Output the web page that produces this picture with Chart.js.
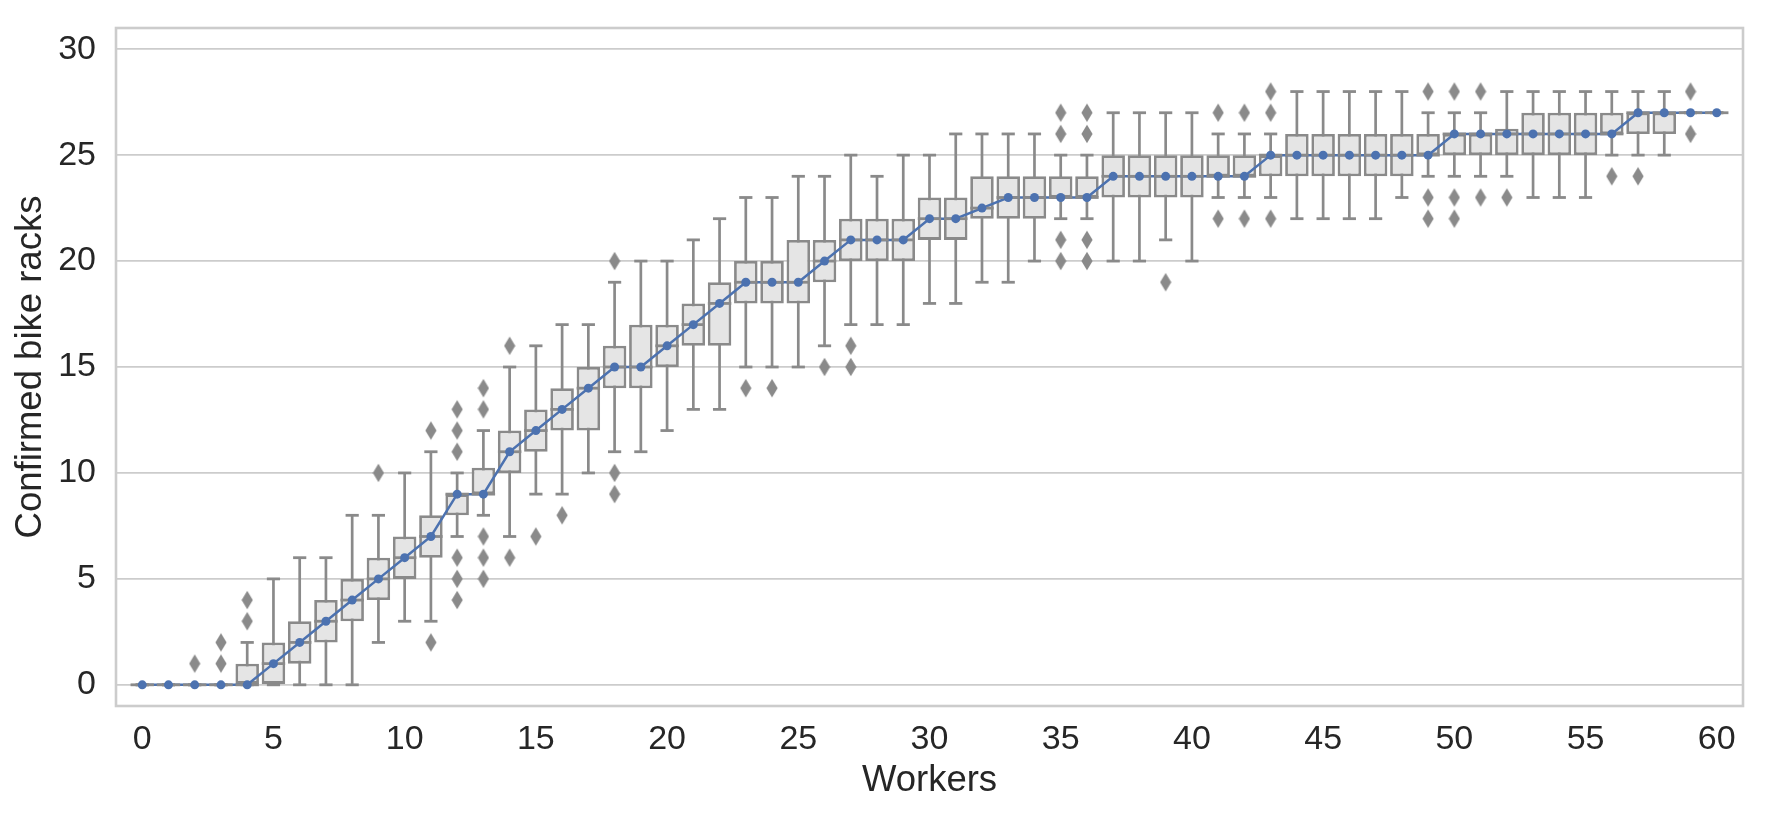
<!DOCTYPE html>
<html>
<head>
<meta charset="utf-8">
<script src="https://cdn.jsdelivr.net/npm/chart.js@4.4.0/dist/chart.umd.min.js"></script>
<style>
  html, body { margin: 0; padding: 0; background: #ffffff; }
  canvas { display: block; }
</style>
</head>
<body>
<canvas id="c" width="1771" height="817"></canvas>
<script>
// ---------- data ----------
const workers = [0,1,2,3,4,5,6,7,8,9,10,11,12,13,14,15,16,17,18,19,20,
  21,22,23,24,25,26,27,28,29,30,31,32,33,34,35,36,37,38,39,40,
  41,42,43,44,45,46,47,48,49,50,51,52,53,54,55,56,57,58,59,60];

const whiskerLow = [0,0,0,0,0,0,0,0,0,2,3,3,7,8,7,9,9,10,11,11,12,
  13,13,15,15,15,16,17,17,17,18,18,19,19,20,22,22,20,20,21,20,
  23,23,23,22,22,22,22,23,24,24,24,24,23,23,23,25,25,25,27,27];

const q1 = [0,0,0,0,0,0,1,2,3,4,5,6,8,9,10,11,12,12,14,14,15,
  16,16,18,18,18,19,20,20,20,21,21,22,22,22,23,23,23,23,23,23,
  24,24,24,24,24,24,24,24,25,25,25,25,25,25,25,26,26,26,27,27];

const median = [0,0,0,0,0,1,2,3,4,5,6,7,9,9,11,12,13,14,15,15,16,
  17,18,19,19,19,20,21,21,21,22,22,22.5,23,23,23,23,24,24,24,24,
  24,24,25,25,25,25,25,25,25,26,26,26,26,26,26,26,27,27,27,27];

const q3 = [0,0,0,0,1,2,3,4,5,6,7,8,9,10.25,12,13,14,15,16,17,17,
  18,19,20,20,21,21,22,22,22,23,23,24,24,24,24,24,25,25,25,25,
  25,25,25,26,26,26,26,26,26,26,26,26.25,27,27,27,27,27,27,27,27];

const whiskerHigh = [0,0,0,0,2,5,6,6,8,8,10,11,10,12,15,16,17,17,19,20,20,
  21,22,23,23,24,24,25,24,25,25,26,26,26,26,25,25,27,27,27,27,
  26,26,26,28,28,28,28,28,27,27,27,28,28,28,28,28,28,28,27,27];

const outliers = [[],[],[1],[1,2],[3,4],[],[],[],[],[10],[],
  [2,12],[4,5,6,11,12,13],[5,6,7,13,14],[6,16],[7],[8],[],[9,10,20],[],[],
  [],[],[14],[14],[],[15],[15,16],[],[],[],
  [],[],[],[],[20,21,26,27],[20,21,26,27],[],[],[19],[],
  [22,27],[22,27],[22,27,28],[],[],[],[],[],[22,23,28],[22,23,28],
  [23,28],[23],[],[],[],[24],[24],[],[26,28],[]];

const xTicks = [0,5,10,15,20,25,30,35,40,45,50,55,60];
const yTicks = [0,5,10,15,20,25,30];
const xLabel = 'Workers';
const yLabel = 'Confirmed bike racks';

// ---------- styles ----------
const GRAY = '#8a8a8a';
const BOXFILL = '#e5e5e5';
const BLUE = '#4c72b0';
const GRID = '#cccccc';
const TEXT = '#262626';
const FONT = "'Liberation Sans', Arial, Helvetica, sans-serif";

// thin diamond marker for outliers
const diamond = document.createElement('canvas');
diamond.width = 12; diamond.height = 20;
(function () {
  const d = diamond.getContext('2d');
  d.fillStyle = GRAY;
  d.beginPath();
  d.moveTo(6, 0.8); d.lineTo(11.6, 10); d.lineTo(6, 19.2); d.lineTo(0.4, 10);
  d.closePath(); d.fill();
})();

// ---------- build library datasets from the arrays ----------
const stemData = workers.map((w, i) => ({ x: w, y: [whiskerLow[i], whiskerHigh[i]] }));
const boxData = workers.map((w, i) => ({ x: w, y: [q1[i], q3[i]] }));
const capData = workers.flatMap((w, i) => [{ x: w, y: whiskerLow[i] }, { x: w, y: whiskerHigh[i] }]);
const medLine = workers.map((w, i) => ({ x: w, y: median[i] }));
const medBars = workers.map((w, i) => ({ x: w, y: median[i] }));
const medDots = workers.map((w, i) => ({ x: w, y: median[i] }));
const outData = workers.flatMap((w, i) => outliers[i].map(v => ({ x: w, y: v })));

const framePlugin = {
  id: 'frame',
  afterDatasetsDraw(chart) {
    const { ctx, chartArea: a } = chart;
    ctx.save();
    ctx.strokeStyle = GRID;
    ctx.lineWidth = 2.6;
    ctx.strokeRect(a.left, a.top, a.right - a.left, a.bottom - a.top);
    ctx.restore();
  }
};

new Chart(document.getElementById('c'), {
  type: 'bar',
  data: {
    datasets: [
      { type: 'bar', data: stemData, backgroundColor: GRAY, borderWidth: 0,
        barThickness: 2.7, maxBarThickness: 2.7, grouped: false, inflateAmount: 0, order: 7 },
      { type: 'bar', data: boxData, backgroundColor: BOXFILL, borderColor: GRAY, borderWidth: 2.8,
        borderSkipped: false, barThickness: 23.5, maxBarThickness: 23.5, grouped: false, inflateAmount: 0, order: 6 },
      { type: 'line', data: medLine, borderColor: BLUE, borderWidth: 2.5, pointRadius: 0,
        tension: 0, fill: false, order: 5 },
      { type: 'scatter', data: capData, pointStyle: 'line', pointRadius: 6.6,
        pointBorderColor: GRAY, pointBackgroundColor: GRAY, pointBorderWidth: 2.8, order: 4 },
      { type: 'scatter', data: medBars, pointStyle: 'line', pointRadius: 11.7,
        pointBorderColor: GRAY, pointBackgroundColor: GRAY, pointBorderWidth: 2.8, order: 3 },
      { type: 'scatter', data: outData, pointStyle: diamond, pointRadius: 9, order: 2 },
      { type: 'scatter', data: medDots, pointStyle: 'circle', pointRadius: 4.5,
        pointBackgroundColor: BLUE, pointBorderWidth: 0, order: 1 }
    ]
  },
  options: {
    responsive: false,
    animation: false,
    events: [],
    layout: { padding: { top: 28, right: 28, bottom: 0, left: 0 }, autoPadding: false },
    plugins: { legend: { display: false }, tooltip: { enabled: false } },
    scales: {
      x: {
        type: 'linear', min: -1, max: 61, offset: false,
        afterBuildTicks: s => { s.ticks = xTicks.map(v => ({ value: v })); },
        afterFit: s => { s.height = 111; s.paddingLeft = 0; s.paddingRight = 0; },
        grid: { display: false, drawTicks: false },
        border: { display: false },
        ticks: { padding: 13.5, color: TEXT, font: { family: FONT, size: 34 }, maxRotation: 0, autoSkip: false },
        title: { display: true, text: xLabel, color: TEXT, font: { family: FONT, size: 36.5 },
          padding: { top: 0, bottom: 14.6 } }
      },
      y: {
        type: 'linear', min: -1, max: 31,
        afterBuildTicks: s => { s.ticks = yTicks.map(v => ({ value: v })); },
        afterFit: s => { s.width = 116; s.paddingTop = 0; s.paddingBottom = 0; },
        grid: { color: GRID, lineWidth: 1.8, drawTicks: false },
        border: { display: false },
        ticks: { padding: 20, color: TEXT, font: { family: FONT, size: 34 }, autoSkip: false },
        title: { display: true, text: yLabel, color: TEXT, font: { family: FONT, size: 36.5 },
          padding: { top: 8.6, bottom: 0 } }
      }
    }
  },
  plugins: [framePlugin]
});
</script>
</body>
</html>
